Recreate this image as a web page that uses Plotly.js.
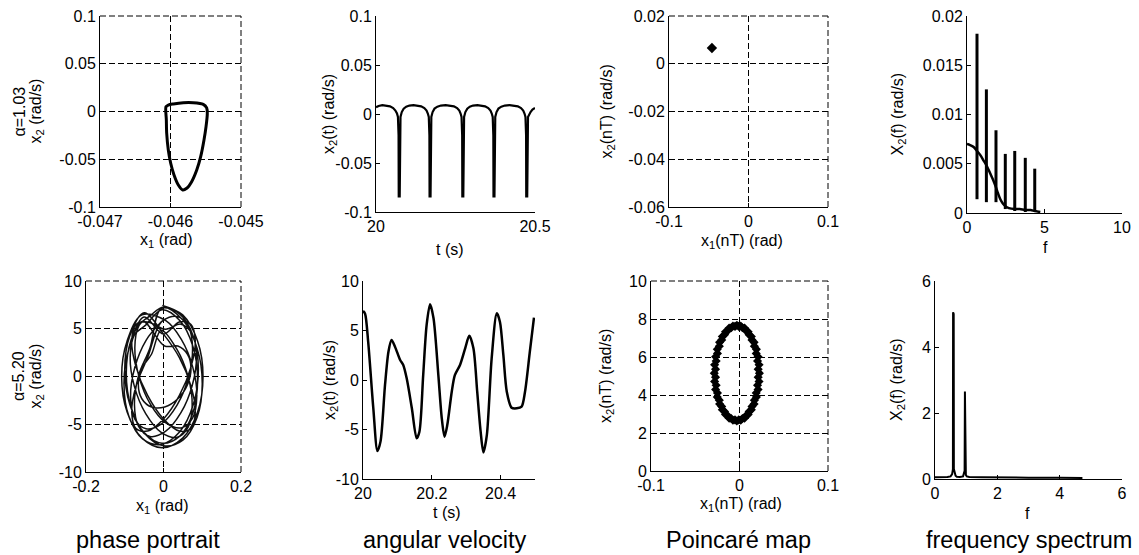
<!DOCTYPE html>
<html><head><meta charset="utf-8">
<script src="https://cdn.plot.ly/plotly-3.0.1.min.js"></script>
<style>html,body{margin:0;padding:0;background:#fff}#chart{width:1139px;height:555px}</style>
</head><body><div id="chart"></div>
<script>
// ---------- data ----------
// Panel 1: phase portrait, alpha = 1.03
const p1X = [-0.046064, -0.046031, -0.045960, -0.045818, -0.045677, -0.045535, -0.045487, -0.045478, -0.045496, -0.045525, -0.045572, -0.045628, -0.045700, -0.045770, -0.045827, -0.045889, -0.045950, -0.045997, -0.046031, -0.046054, -0.046059, -0.046064];
const p1Y = [0.0050, 0.0068, 0.0079, 0.0092, 0.0092, 0.0075, 0.0039, -0.0020, -0.0159, -0.0298, -0.0473, -0.0613, -0.0735, -0.0804, -0.0822, -0.0770, -0.0665, -0.0542, -0.0403, -0.0228, -0.0089, 0.0050];

// Panel 2: angular velocity, alpha = 1.03
const p2T = [20.0, 20.008, 20.02, 20.032, 20.044, 20.054, 20.061, 20.066, 20.069, 20.071, 20.0715, 20.0745, 20.0755, 20.077,
  20.081, 20.087, 20.095, 20.105, 20.118, 20.131, 20.142, 20.152, 20.159, 20.163, 20.166, 20.168, 20.1685, 20.1715, 20.1725, 20.174,
  20.178, 20.184, 20.193, 20.204, 20.219, 20.233, 20.245, 20.255, 20.262, 20.266, 20.269, 20.271, 20.2715, 20.2745, 20.2755, 20.277,
  20.281, 20.287, 20.295, 20.305, 20.319, 20.332, 20.343, 20.353, 20.360, 20.364, 20.367, 20.369, 20.3695, 20.3725, 20.3735, 20.375,
  20.379, 20.385, 20.394, 20.405, 20.420, 20.434, 20.446, 20.456, 20.463, 20.467, 20.470, 20.472, 20.4725, 20.4755, 20.4765, 20.478,
  20.486, 20.492, 20.5];
const p2V = [0.0068, 0.0082, 0.0091, 0.0088, 0.0078, 0.006, 0.0035, 0.0005, -0.003, -0.022, -0.084, -0.084, -0.022, -0.003,
  0.002, 0.0055, 0.0075, 0.0086, 0.0091, 0.0088, 0.0078, 0.006, 0.0035, 0.0005, -0.003, -0.022, -0.084, -0.084, -0.022, -0.003,
  0.002, 0.0055, 0.0075, 0.0086, 0.0091, 0.0088, 0.0078, 0.006, 0.0035, 0.0005, -0.003, -0.022, -0.084, -0.084, -0.022, -0.003,
  0.002, 0.0055, 0.0075, 0.0086, 0.0091, 0.0088, 0.0078, 0.006, 0.0035, 0.0005, -0.003, -0.022, -0.084, -0.084, -0.022, -0.003,
  0.002, 0.0055, 0.0075, 0.0086, 0.0091, 0.0088, 0.0078, 0.006, 0.0035, 0.0005, -0.003, -0.022, -0.084, -0.084, -0.022, -0.003,
  0.002, 0.0045, 0.0062];

// Panel 3: Poincare map, alpha = 1.03
const p3X = [-0.046];
const p3Y = [0.0066];

// Panel 4: frequency spectrum, alpha = 1.03
const p4LineF = [0.645, 1.25, 1.87, 2.47, 3.08, 3.76, 4.37];
const p4LineTop = [0.0182, 0.01255, 0.0084, 0.0060, 0.0063, 0.0056, 0.0045];
const p4LineBot = [0.0014, 0.0011, 0.0011, 0.0004, 0.0002, 0.0001, 0.0002];
const p4CurveF = [0, 0.2, 0.43, 0.645, 0.85, 1.08, 1.3, 1.5, 1.7, 1.87, 2.0, 2.15, 2.3, 2.47, 2.7, 3.08, 3.4, 3.76, 4.1, 4.37, 4.73];
const p4CurveY = [0.0070, 0.0069, 0.0067, 0.0063, 0.0059, 0.0053, 0.0047, 0.0040, 0.0033, 0.0026, 0.0020, 0.0014, 0.0010, 0.0007, 0.0005, 0.0004, 0.0004, 0.0003, 0.0003, 0.0002, 0.0001];

// Panel 5: phase portrait, alpha = 5.20 (trajectory read loop by loop)
const p5X = [
  -0.003, 0.0495, 0.0879, 0.102, 0.0879, 0.0495, -0.003, -0.0555, -0.0939, -0.108, -0.0939, -0.0555,
  0.006, 0.046, 0.0753, 0.086, 0.0753, 0.046, 0.006, -0.034, -0.0633, -0.074, -0.0633, -0.034,
  0, 0.05, 0.0866, 0.1, 0.0866, 0.05, 0, -0.05, -0.0866, -0.1, -0.0866, -0.05,
  0, 0.041, 0.071, 0.082, 0.071, 0.041, 0, -0.041, -0.071, -0.082, -0.071, -0.041,
  0.005, 0.045, 0.0743, 0.085, 0.0743, 0.045, 0.005, -0.035, -0.0643, -0.075, -0.0643, -0.035,
  -0.006, 0.042, 0.0771, 0.090, 0.0771, 0.042, -0.006, -0.054, -0.0891, -0.102, -0.0891, -0.054,
  0.003, 0.037, 0.0619, 0.071, 0.0619, 0.037, 0.003, -0.031, -0.0559, -0.065, -0.0559, -0.031,
  -0.006, 0.034, 0.0633, 0.074, 0.0633, 0.034, -0.006, -0.046, -0.0753, -0.086, -0.0753, -0.046,
  -0.004, 0.042, 0.0757, 0.088, 0.0757, 0.042, -0.004, -0.05, -0.0837, -0.096, -0.0837, -0.05,
  0, 0.041, 0.071, 0.082, 0.071, 0.041, 0, -0.041, -0.071, -0.082, -0.071, -0.041,
  -0.005, 0.035, 0.0643, 0.075, 0.0643, 0.035, -0.005, -0.045, -0.0743, -0.085, -0.0743, -0.045, -0.005];
const p5Y = [
  7.45, 6.45, 3.73, 0, -3.73, -6.45, -7.45, -6.45, -3.73, 0, 3.73, 6.45,
  5.85, 3.89, 1.01, -1.99, -4.33, -5.38, -4.85, -2.89, -0.01, 3.00, 5.33, 6.38,
  7.26, 5.91, 2.97, -0.77, -4.29, -6.67, -7.26, -5.91, -2.97, 0.77, 4.29, 6.67,
  4.44, 1.98, -1.01, -3.73, -5.45, -5.71, -4.44, -1.98, 1.01, 3.73, 5.45, 5.71,
  4.95, 5.48, 4.43, 2.10, -0.91, -3.79, -5.75, -6.28, -5.23, -2.90, 0.11, 2.99,
  7.11, 6.54, 4.20, 0.75, -2.91, -5.78, -7.11, -6.54, -4.20, -0.75, 2.91, 5.78,
  3.19, 3.19, 2.33, 0.85, -0.85, -2.33, -3.19, -3.19, -2.33, -0.85, 0.85, 2.33,
  4.85, 2.89, 0.01, -3.00, -5.33, -6.38, -5.85, -3.89, -1.01, 1.99, 4.33, 5.38,
  6.99, 5.87, 3.18, -0.36, -3.82, -6.24, -6.99, -5.87, -3.18, 0.36, 3.82, 6.24,
  4.44, 5.71, 5.45, 3.73, 1.01, -1.98, -4.44, -5.71, -5.45, -3.73, -1.01, 1.98,
  5.75, 6.28, 5.23, 2.90, -0.11, -2.99, -4.95, -5.48, -4.43, -2.10, 0.91, 3.79, 5.75];

// Panel 6: angular velocity, alpha = 5.20
const p6T = [20.0, 20.006, 20.015, 20.030, 20.042, 20.051, 20.064, 20.074, 20.083, 20.093, 20.108, 20.117, 20.127, 20.142, 20.156, 20.164, 20.175, 20.185, 20.195, 20.205, 20.219, 20.229, 20.237, 20.245, 20.258, 20.267, 20.282, 20.297, 20.309, 20.321, 20.332, 20.342, 20.350, 20.360, 20.374, 20.389, 20.398, 20.408, 20.418, 20.432, 20.447, 20.461, 20.471, 20.485, 20.497];
const p6V = [6.97, 6.7, 3.87, -2.86, -7.17, -6.2, -0.5, 2.86, 4.04, 3.37, 2.02, 1.52, 0.17, -2.86, -5.89, -5.22, 0.5, 5.56, 7.65, 6.23, 0.5, -3.87, -5.72, -4.55, -1.18, 0.5, 1.52, 3.2, 4.47, 3.2, -1.18, -5.22, -7.31, -5.56, 2.19, 6.74, 5.89, 2.53, -1.18, -2.80, -2.86, -2.69, -1.18, 2.86, 6.29];

// Panel 7: Poincare map, alpha = 5.20
const p7X = [0.0225, 0.0221, 0.0210, 0.0191, 0.0165, 0.0134, 0.0098, 0.0057, 0.0014, -0.0030, -0.0074, -0.0117, -0.0158, -0.0194, -0.0225, -0.0251, -0.0270, -0.0281, -0.0285, -0.0281, -0.0270, -0.0251, -0.0225, -0.0194, -0.0158, -0.0117, -0.0074, -0.0030, 0.0014, 0.0057, 0.0098, 0.0134, 0.0165, 0.0191, 0.0210, 0.0221,
  0.0211, 0.0204, 0.0189, 0.0168, 0.0141, 0.0109, 0.0072, 0.0033, -0.0009, -0.0051, -0.0093, -0.0132, -0.0169, -0.0201, -0.0228, -0.0249, -0.0264, -0.0271, -0.0271, -0.0264, -0.0249, -0.0228, -0.0201, -0.0169, -0.0132, -0.0093, -0.0051, -0.0009, 0.0033, 0.0072, 0.0109, 0.0141, 0.0168, 0.0189, 0.0204, 0.0211];
const p7Y = [5.15, 5.59, 6.01, 6.41, 6.77, 7.08, 7.33, 7.52, 7.63, 7.67, 7.63, 7.52, 7.33, 7.08, 6.77, 6.41, 6.01, 5.59, 5.15, 4.71, 4.29, 3.89, 3.53, 3.22, 2.97, 2.78, 2.67, 2.63, 2.67, 2.78, 2.97, 3.22, 3.53, 3.89, 4.29, 4.71,
  5.36, 5.79, 6.19, 6.57, 6.90, 7.17, 7.39, 7.54, 7.61, 7.61, 7.54, 7.39, 7.17, 6.90, 6.57, 6.19, 5.79, 5.36, 4.94, 4.51, 4.11, 3.73, 3.40, 3.13, 2.91, 2.76, 2.69, 2.69, 2.76, 2.91, 3.13, 3.40, 3.73, 4.11, 4.51, 4.94];

// Panel 8: frequency spectrum, alpha = 5.20
const p8F = [0, 0.2, 0.4, 0.5, 0.55, 0.575, 0.58, 0.60, 0.605, 0.63, 0.66, 0.7, 0.8, 0.9, 0.93, 0.95, 0.96, 0.97, 0.99, 1.02, 1.1, 1.5, 2.0, 3.0, 4.0, 4.73];
const p8A = [0.05, 0.05, 0.06, 0.08, 0.15, 0.3, 5.05, 5.0, 0.3, 0.15, 0.1, 0.07, 0.06, 0.08, 0.15, 0.25, 2.65, 0.25, 0.12, 0.08, 0.06, 0.05, 0.04, 0.04, 0.04, 0.03];

// Tick labels
const p1XTicks = [-0.047, -0.046, -0.045], p1XText = ['-0.047', '-0.046', '-0.045'];
const p1YTicks = [-0.1, -0.05, 0, 0.05, 0.1], p1YText = ['-0.1', '-0.05', '0', '0.05', '0.1'];
const p2XTicks = [20, 20.5], p2XText = ['20', '20.5'];
const p3XTicks = [-0.1, 0, 0.1], p3XText = ['-0.1', '0', '0.1'];
const p3YTicks = [-0.06, -0.04, -0.02, 0, 0.02], p3YText = ['-0.06', '-0.04', '-0.02', '0', '0.02'];
const p4XTicks = [0, 5, 10], p4XText = ['0', '5', '10'];
const p4YTicks = [0, 0.005, 0.01, 0.015, 0.02], p4YText = ['0', '0.005', '0.01', '0.015', '0.02'];
const p5XTicks = [-0.2, 0, 0.2], p5XText = ['-0.2', '0', '0.2'];
const p5YTicks = [-10, -5, 0, 5, 10], p5YText = ['-10', '-5', '0', '5', '10'];
const p6XTicks = [20, 20.2, 20.4], p6XText = ['20', '20.2', '20.4'];
const p7YTicks = [0, 2, 4, 6, 8, 10], p7YText = ['0', '2', '4', '6', '8', '10'];
const p8XTicks = [0, 2, 4, 6], p8XText = ['0', '2', '4', '6'];
const p8YTicks = [0, 2, 4, 6], p8YText = ['0', '2', '4', '6'];

// ---------- layout helpers ----------
const W = 1139, H = 555;
const FONT = '"Liberation Sans", Arial, Helvetica, sans-serif';
const px = v => v / W, py = v => 1 - v / H;
const DASH = '6px,3px';
function pad(r) { const e = (r[1] - r[0]) * 1e-6; return [r[0] - e, r[1] + e]; }
function axis(dom, rng, tv, tt, grid, anchor) {
  return {
    domain: dom, range: pad(rng), anchor: anchor, tickmode: 'array', tickvals: tv, ticktext: tt,
    showline: true, linecolor: '#000', linewidth: 1, mirror: false,
    ticks: 'inside', ticklen: 4, tickcolor: '#000', tickwidth: 1,
    showgrid: grid, gridcolor: '#000', gridwidth: 1, griddash: DASH, zeroline: false,
    tickfont: { family: FONT, size: 16, color: '#000' }, fixedrange: true
  };
}
// panel pixel boxes [left, right, top, bottom]
const box = [
  [100, 241, 16, 207], [376, 535, 16, 212], [669, 828, 16, 207], [967, 1122, 16, 213],
  [86, 241, 281, 472], [363, 535, 281, 479], [651, 828, 281, 471], [935, 1122, 281, 479]
];
const xr = [[-0.047, -0.045], [20, 20.5], [-0.1, 0.1], [0, 10], [-0.2, 0.2], [20, 20.5], [-0.1, 0.1], [0, 6]];
const yr = [[-0.1, 0.1], [-0.1, 0.1], [-0.06, 0.02], [0, 0.02], [-10, 10], [-10, 10], [0, 10], [0, 6]];
const xt = [[p1XTicks, p1XText], [p2XTicks, p2XText], [p3XTicks, p3XText], [p4XTicks, p4XText], [p5XTicks, p5XText], [p6XTicks, p6XText], [p3XTicks, p3XText], [p8XTicks, p8XText]];
const yt = [[p1YTicks, p1YText], [p1YTicks, p1YText], [p3YTicks, p3YText], [p4YTicks, p4YText], [p5YTicks, p5YText], [p5YTicks, p5YText], [p7YTicks, p7YText], [p8YTicks, p8YText]];
const grid = [true, false, true, false, true, false, true, false];

const layout = {
  width: W, height: H, margin: { l: 0, r: 0, t: 0, b: 0 }, showlegend: false,
  paper_bgcolor: '#fff', plot_bgcolor: '#fff', font: { family: FONT, size: 16, color: '#000' },
  annotations: [], shapes: []
};
for (let i = 0; i < 8; i++) {
  const b = box[i], s = i === 0 ? '' : String(i + 1);
  layout['xaxis' + s] = axis([px(b[0]), px(b[1])], xr[i], xt[i][0], xt[i][1], grid[i], 'y' + s);
  layout['yaxis' + s] = axis([py(b[3]), py(b[2])], yr[i], yt[i][0], yt[i][1], grid[i], 'x' + s);
  if (grid[i]) {
    // dashed top and right edges of the boxed panels
    const ln = { color: '#000', width: 1, dash: DASH };
    layout.shapes.push({ type: 'line', xref: 'paper', yref: 'paper', layer: 'above', x0: px(b[0]), x1: px(b[1]), y0: py(b[2]), y1: py(b[2]), line: ln });
    layout.shapes.push({ type: 'line', xref: 'paper', yref: 'paper', layer: 'above', x0: px(b[1]), x1: px(b[1]), y0: py(b[3]), y1: py(b[2]), line: ln });
  }
}

function ann(text, x, y, size, angle) {
  layout.annotations.push({
    text: text, xref: 'paper', yref: 'paper', x: px(x), y: py(y), xanchor: 'center', yanchor: 'middle',
    showarrow: false, textangle: angle || 0, font: { family: FONT, size: size, color: '#000' }
  });
}
// y axis titles
ann('α=1.03', 19, 111.5, 16, -90);
ann('x<sub>2</sub> (rad/s)', 36, 111.5, 16, -90);
ann('x<sub>2</sub>(t) (rad/s)', 329, 114, 16, -90);
ann('x<sub>2</sub>(nT) (rad/s)', 607, 111.5, 16, -90);
ann('X<sub>2</sub>(f) (rad/s)', 898, 114.5, 16, -90);
ann('α=5.20', 18.5, 376.5, 16, -90);
ann('x<sub>2</sub> (rad/s)', 36, 376.5, 16, -90);
ann('x<sub>2</sub>(t) (rad/s)', 330, 380, 16, -90);
ann('x<sub>2</sub>(nT) (rad/s)', 606, 376, 16, -90);
ann('X<sub>2</sub>(f) (rad/s)', 897, 380, 16, -90);
// x axis titles
ann('x<sub>1</sub> (rad)', 166, 240, 16);
ann('t (s)', 450, 249, 16);
ann('x<sub>1</sub>(nT) (rad)', 742, 241, 16);
ann('f', 1045, 247, 16);
ann('x<sub>1</sub> (rad)', 162, 506, 16);
ann('t (s)', 447, 512, 16);
ann('x<sub>1</sub>(nT) (rad)', 741, 504, 16);
ann('f', 1027, 513, 16);
// captions
ann('phase portrait', 148, 540, 23.5);
ann('angular velocity', 445, 540, 23.5);
ann('Poincaré map', 738, 540, 23.5);
ann('frequency spectrum', 1029, 540, 23.5);

// ---------- traces ----------
const K = '#000';
const p4VX = [], p4VY = [];
for (let i = 0; i < p4LineF.length; i++) {
  p4VX.push(p4LineF[i], p4LineF[i], null);
  p4VY.push(p4LineBot[i], p4LineTop[i], null);
}
const traces = [
  { x: p1X, y: p1Y, xaxis: 'x', yaxis: 'y', mode: 'lines', line: { color: K, width: 3, shape: 'spline', smoothing: 0.8 } },
  { x: p2T, y: p2V, xaxis: 'x2', yaxis: 'y2', mode: 'lines', line: { color: K, width: 2.2 } },
  { x: p3X, y: p3Y, xaxis: 'x3', yaxis: 'y3', mode: 'markers', marker: { color: K, size: 8, symbol: 'diamond' } },
  { x: p4VX, y: p4VY, xaxis: 'x4', yaxis: 'y4', mode: 'lines', line: { color: K, width: 3 } },
  { x: p4CurveF, y: p4CurveY, xaxis: 'x4', yaxis: 'y4', mode: 'lines', line: { color: K, width: 2.5, shape: 'spline' } },
  { x: p5X, y: p5Y, xaxis: 'x5', yaxis: 'y5', mode: 'lines', line: { color: '#111', width: 1.5, shape: 'spline', smoothing: 1 } },
  { x: p6T, y: p6V, xaxis: 'x6', yaxis: 'y6', mode: 'lines', line: { color: K, width: 2.5, shape: 'spline', smoothing: 0.8 } },
  { x: p7X, y: p7Y, xaxis: 'x7', yaxis: 'y7', mode: 'markers', marker: { color: K, size: 7, symbol: 'diamond' } },
  { x: p8F, y: p8A, xaxis: 'x8', yaxis: 'y8', mode: 'lines', line: { color: K, width: 2 } }
];
Plotly.newPlot('chart', traces, layout, { displayModeBar: false, staticPlot: true });
</script></body></html>
